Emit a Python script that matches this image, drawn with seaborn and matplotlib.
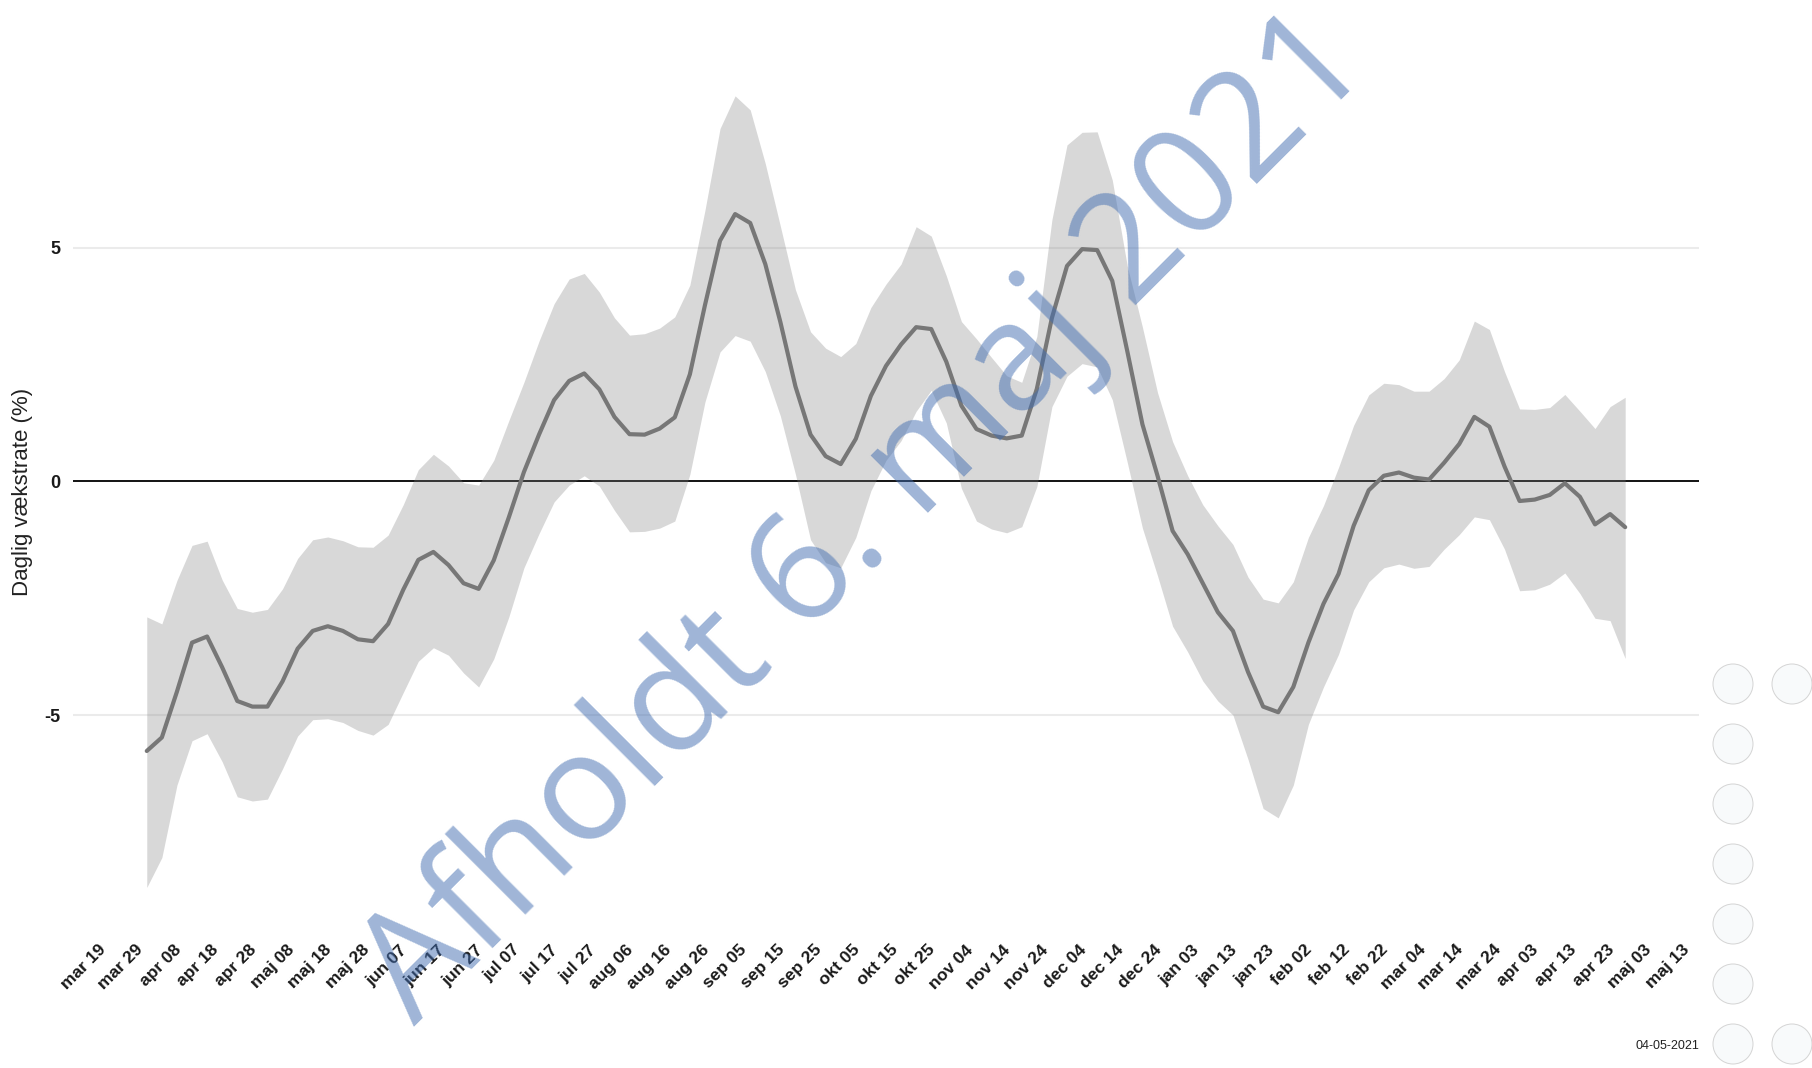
import numpy as np
import pandas as pd
import matplotlib
matplotlib.use('Agg')
import matplotlib.pyplot as plt
from matplotlib.patches import Circle
import seaborn as sns

# Daglig vækstrate med usikkerhedsbånd, aflæst hver 4. dag fra 1. april 2020
start_date = '2020-04-01'
step = '4D'

rate = [-5.77, -5.48, -4.50, -3.45, -3.32, -3.98, -4.70, -4.82, -4.82, -4.28,
        -3.58, -3.20, -3.10, -3.20, -3.38, -3.42, -3.05, -2.32, -1.68, -1.51,
        -1.79, -2.18, -2.30, -1.69, -0.77, 0.20, 1.00, 1.74, 2.15, 2.31,
        1.97, 1.38, 1.01, 1.00, 1.13, 1.37, 2.29, 3.77, 5.15, 5.72,
        5.53, 4.65, 3.41, 2.03, 1.00, 0.54, 0.37, 0.91, 1.83, 2.47,
        2.93, 3.30, 3.26, 2.56, 1.62, 1.12, 0.98, 0.92, 0.98, 1.98,
        3.50, 4.61, 4.97, 4.95, 4.29, 2.78, 1.22, 0.12, -1.06, -1.56,
        -2.18, -2.80, -3.20, -4.08, -4.82, -4.94, -4.40, -3.45, -2.62, -1.98,
        -0.95, -0.19, 0.12, 0.19, 0.08, 0.04, 0.40, 0.80, 1.38, 1.17,
        0.32, -0.42, -0.39, -0.29, -0.04, -0.33, -0.92, -0.70, -0.98]

upper = [-2.90, -3.05, -2.12, -1.37, -1.28, -2.11, -2.72, -2.80, -2.74, -2.30,
         -1.65, -1.25, -1.19, -1.27, -1.40, -1.41, -1.15, -0.50, 0.25, 0.58,
         0.33, -0.03, -0.08, 0.45, 1.30, 2.12, 3.00, 3.80, 4.33, 4.45,
         4.05, 3.50, 3.13, 3.16, 3.28, 3.52, 4.20, 5.80, 7.55, 8.25,
         7.95, 6.80, 5.46, 4.10, 3.20, 2.85, 2.67, 2.95, 3.72, 4.22,
         4.65, 5.45, 5.25, 4.40, 3.42, 3.05, 2.65, 2.26, 2.12, 3.10,
         5.60, 7.20, 7.47, 7.48, 6.45, 4.60, 3.30, 1.90, 0.85, 0.12,
         -0.50, -0.95, -1.35, -2.05, -2.52, -2.60, -2.15, -1.20, -0.52, 0.30,
         1.20, 1.85, 2.10, 2.07, 1.93, 1.93, 2.20, 2.60, 3.43, 3.25,
         2.35, 1.55, 1.54, 1.58, 1.86, 1.50, 1.13, 1.60, 1.80]

lower = [-8.69, -8.05, -6.50, -5.55, -5.40, -6.00, -6.75, -6.84, -6.80, -6.15,
         -5.45, -5.10, -5.08, -5.16, -5.33, -5.43, -5.20, -4.52, -3.85, -3.56,
         -3.72, -4.10, -4.40, -3.80, -2.90, -1.85, -1.12, -0.44, -0.08, 0.12,
         -0.10, -0.62, -1.08, -1.07, -1.00, -0.85, 0.15, 1.70, 2.77, 3.12,
         3.00, 2.35, 1.40, 0.15, -1.25, -1.74, -1.85, -1.20, -0.20, 0.45,
         0.87, 1.50, 1.95, 1.25, -0.15, -0.85, -1.02, -1.10, -0.97, -0.11,
         1.60, 2.25, 2.52, 2.45, 1.75, 0.40, -1.00, -2.02, -3.10, -3.65,
         -4.27, -4.70, -5.00, -5.95, -7.00, -7.20, -6.50, -5.20, -4.40, -3.70,
         -2.75, -2.15, -1.85, -1.77, -1.86, -1.82, -1.45, -1.14, -0.76, -0.82,
         -1.45, -2.34, -2.32, -2.20, -1.96, -2.40, -2.93, -2.98, -3.79]

tick_dates = pd.date_range('2020-03-19', '2021-05-13', freq='10D')
month_names = ['jan', 'feb', 'mar', 'apr', 'maj', 'jun',
               'jul', 'aug', 'sep', 'okt', 'nov', 'dec']
y_ticks = [-5, 0, 5]
y_tick_labels = ['-5', '0', '5']

df = pd.DataFrame({
    'dato': pd.date_range(start_date, periods=len(rate), freq=step),
    'rate': rate,
    'lower': lower,
    'upper': upper,
})

sns.set_theme(style='white')
plt.rcParams['font.family'] = ['Liberation Sans', 'DejaVu Sans']

fig = plt.figure(figsize=(18.12, 10.68), dpi=100)
ax = fig.add_axes([0.0402, 0.1320, 0.8975, 0.8153])

# baggrundslinjer
for yv in (-5, 5):
    ax.axhline(yv, color='#EBEBEB', lw=1.5, zorder=0)
ax.axhline(0, color='black', lw=1.3, zorder=1)

ax.fill_between(df['dato'], df['lower'], df['upper'],
                color='#7F7F7F', alpha=0.30, linewidth=0, zorder=2)
sns.lineplot(data=df, x='dato', y='rate', ax=ax, color='#777777',
             linewidth=3.0, zorder=3)

# akser som i ggplot (5 % udvidelse)
span = df['dato'].iloc[-1] - df['dato'].iloc[0]
ax.set_xlim(df['dato'].iloc[0] - 0.05 * span, df['dato'].iloc[-1] + 0.05 * span)
lo, hi = min(lower), max(upper)
pad = 0.05 * (hi - lo)
ax.set_ylim(lo - pad, hi + pad)

ax.set_xticks(tick_dates)
ax.set_xticklabels([f'{month_names[d.month - 1]} {d.day:02d}' for d in tick_dates],
                   rotation=45, ha='right', va='top', rotation_mode='anchor',
                   fontsize=12.5, fontweight='bold', color='#1A1A1A')
ax.tick_params(axis='x', length=0, pad=11)

ax.set_yticks(y_ticks)
ax.set_yticklabels(y_tick_labels, fontsize=13, fontweight='bold', color='#1A1A1A')
ax.tick_params(axis='y', length=0, pad=9)

ax.set_xlabel('')
ax.set_ylabel('Daglig vækstrate (%)', fontsize=16, color='#222222')
ax.yaxis.set_label_coords(-0.0245, 0.5)
for s in ax.spines.values():
    s.set_visible(False)
ax.grid(False)

# vandmærke og dato
fig.text(415 / 1812, 1 - 1027 / 1068, 'Afholdt 6. maj 2021', rotation=45,
         rotation_mode='anchor', ha='left', va='baseline', fontsize=108,
         family=['Open Sans', 'DejaVu Sans'], color='#406CB0', alpha=0.5, zorder=10)
fig.text(1699 / 1812, 1 - 1046 / 1068, '04-05-2021', ha='right', va='center',
         fontsize=9, color='#222222')

# blege cirkler i højre side
circle_cols = [17.33, 17.92]
circle_rows = [10.68 - (6.84 + 0.6 * k) for k in range(7)]
for i, cy in enumerate(circle_rows):
    cols = circle_cols if i in (0, 6) else circle_cols[:1]
    for cx in cols:
        fig.patches.append(Circle((cx, cy), 0.2, transform=fig.dpi_scale_trans,
                                  facecolor='#F8FAFB', edgecolor='#D4D4D4', lw=0.7))

fig.savefig('out.png', dpi=100)
